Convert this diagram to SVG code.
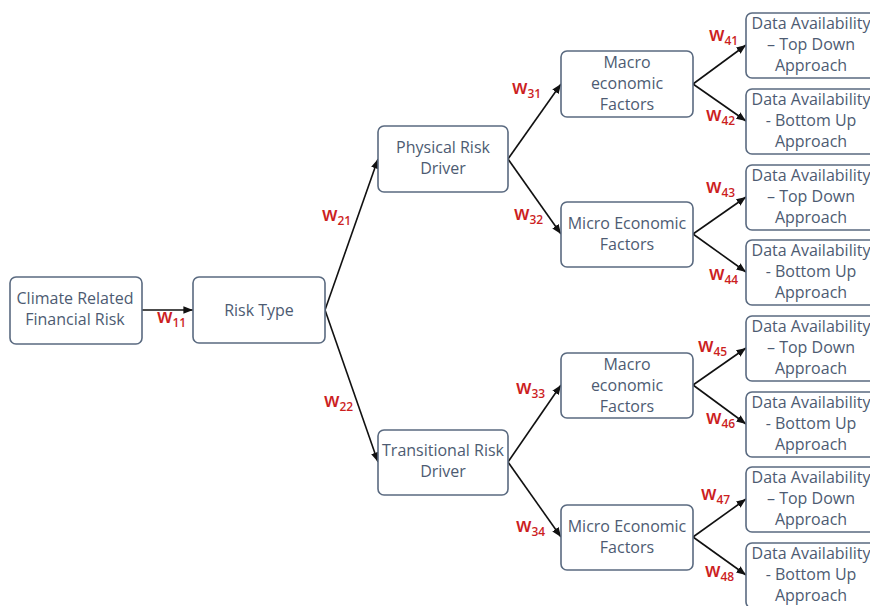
<svg xmlns="http://www.w3.org/2000/svg" width="870" height="606" viewBox="0 0 870 606">
<defs>
<style>
.box{fill:#fff;stroke:#5a6a80;stroke-width:1.6}
.t{font-family:"Open Sans","DejaVu Sans",sans-serif;font-size:16px;fill:#4d5b72;text-anchor:middle}
.c{stroke:#111;stroke-width:1.6;fill:none;marker-end:url(#ah)}
.w{font-family:"Open Sans","DejaVu Sans",sans-serif;font-size:19px;font-weight:600;fill:#cc1f1f}
.s{font-size:12px}
</style>
<marker id="ah" viewBox="0 0 10 10" refX="10" refY="5" markerWidth="6" markerHeight="6" orient="auto" markerUnits="strokeWidth">
<path d="M0,1 L10,5 L0,9 z" fill="#111"/>
</marker>
</defs>
<rect width="870" height="606" fill="#fff"/>

<g id="connectors">
<path class="c" d="M142,310 L193,310"/>
<path class="c" d="M325,310 L378,159"/>
<path class="c" d="M325,310 L378,462"/>
<path class="c" d="M508,159 L561,84"/>
<path class="c" d="M508,159 L561,234"/>
<path class="c" d="M508,462 L561,385"/>
<path class="c" d="M508,462 L561,537"/>
<path class="c" d="M693,84 L746,45"/>
<path class="c" d="M693,84 L746,121"/>
<path class="c" d="M693,234 L746,197"/>
<path class="c" d="M693,234 L746,272"/>
<path class="c" d="M693,385 L746,348"/>
<path class="c" d="M693,385 L746,424"/>
<path class="c" d="M693,537 L746,499"/>
<path class="c" d="M693,537 L746,575"/>
</g>

<g id="weights">
<text class="w" x="157" y="323">w<tspan class="s" dy="4">11</tspan></text>
<text class="w" x="322" y="221">w<tspan class="s" dy="4">21</tspan></text>
<text class="w" x="324" y="407">w<tspan class="s" dy="4">22</tspan></text>
<text class="w" x="512" y="94">w<tspan class="s" dy="4">31</tspan></text>
<text class="w" x="514" y="220">w<tspan class="s" dy="4">32</tspan></text>
<text class="w" x="516" y="394">w<tspan class="s" dy="4">33</tspan></text>
<text class="w" x="516" y="532">w<tspan class="s" dy="4">34</tspan></text>
<text class="w" x="709" y="41">w<tspan class="s" dy="4">41</tspan></text>
<text class="w" x="706" y="121">w<tspan class="s" dy="4">42</tspan></text>
<text class="w" x="706" y="193">w<tspan class="s" dy="4">43</tspan></text>
<text class="w" x="709" y="280">w<tspan class="s" dy="4">44</tspan></text>
<text class="w" x="698" y="352">w<tspan class="s" dy="4">45</tspan></text>
<text class="w" x="706" y="424">w<tspan class="s" dy="4">46</tspan></text>
<text class="w" x="701" y="500">w<tspan class="s" dy="4">47</tspan></text>
<text class="w" x="705" y="577">w<tspan class="s" dy="4">48</tspan></text>
</g>

<g id="climate">
<rect class="box" x="10" y="277" width="132" height="67" rx="6"/>
<text class="t"><tspan x="75" y="304">Climate Related</tspan><tspan x="75" y="325">Financial Risk</tspan></text>
</g>
<g id="risk-type">
<rect class="box" x="193" y="277" width="132" height="66" rx="6"/>
<text class="t" x="259" y="316">Risk Type</text>
</g>
<g id="physical">
<rect class="box" x="378" y="126" width="130" height="66" rx="6"/>
<text class="t"><tspan x="443" y="153">Physical Risk</tspan><tspan x="443" y="174">Driver</tspan></text>
</g>
<g id="transitional">
<rect class="box" x="378" y="430" width="130" height="65" rx="6"/>
<text class="t"><tspan x="443" y="456">Transitional Risk</tspan><tspan x="443" y="477">Driver</tspan></text>
</g>
<g id="macro1">
<rect class="box" x="561" y="51" width="132" height="66" rx="6"/>
<text class="t"><tspan x="627" y="68">Macro</tspan><tspan x="627" y="89">economic</tspan><tspan x="627" y="110">Factors</tspan></text>
</g>
<g id="micro1">
<rect class="box" x="561" y="202" width="132" height="65" rx="6"/>
<text class="t"><tspan x="627" y="229">Micro Economic</tspan><tspan x="627" y="250">Factors</tspan></text>
</g>
<g id="macro2">
<rect class="box" x="561" y="353" width="132" height="65" rx="6"/>
<text class="t"><tspan x="627" y="370">Macro</tspan><tspan x="627" y="391">economic</tspan><tspan x="627" y="412">Factors</tspan></text>
</g>
<g id="micro2">
<rect class="box" x="561" y="505" width="132" height="65" rx="6"/>
<text class="t"><tspan x="627" y="532">Micro Economic</tspan><tspan x="627" y="553">Factors</tspan></text>
</g>

<g id="data1">
<rect class="box" x="746" y="13" width="130" height="65" rx="6"/>
<text class="t"><tspan x="811" y="29">Data Availability</tspan><tspan x="811" y="50">– Top Down</tspan><tspan x="811" y="71">Approach</tspan></text>
</g>
<g id="data2">
<rect class="box" x="746" y="89" width="130" height="65" rx="6"/>
<text class="t"><tspan x="811" y="105">Data Availability</tspan><tspan x="811" y="126">- Bottom Up</tspan><tspan x="811" y="147">Approach</tspan></text>
</g>
<g id="data3">
<rect class="box" x="746" y="165" width="130" height="65" rx="6"/>
<text class="t"><tspan x="811" y="181">Data Availability</tspan><tspan x="811" y="202">– Top Down</tspan><tspan x="811" y="223">Approach</tspan></text>
</g>
<g id="data4">
<rect class="box" x="746" y="240" width="130" height="65" rx="6"/>
<text class="t"><tspan x="811" y="256">Data Availability</tspan><tspan x="811" y="277">- Bottom Up</tspan><tspan x="811" y="298">Approach</tspan></text>
</g>
<g id="data5">
<rect class="box" x="746" y="316" width="130" height="65" rx="6"/>
<text class="t"><tspan x="811" y="332">Data Availability</tspan><tspan x="811" y="353">– Top Down</tspan><tspan x="811" y="374">Approach</tspan></text>
</g>
<g id="data6">
<rect class="box" x="746" y="392" width="130" height="65" rx="6"/>
<text class="t"><tspan x="811" y="408">Data Availability</tspan><tspan x="811" y="429">- Bottom Up</tspan><tspan x="811" y="450">Approach</tspan></text>
</g>
<g id="data7">
<rect class="box" x="746" y="467" width="130" height="65" rx="6"/>
<text class="t"><tspan x="811" y="483">Data Availability</tspan><tspan x="811" y="504">– Top Down</tspan><tspan x="811" y="525">Approach</tspan></text>
</g>
<g id="data8">
<rect class="box" x="746" y="543" width="130" height="65" rx="6"/>
<text class="t"><tspan x="811" y="559">Data Availability</tspan><tspan x="811" y="580">- Bottom Up</tspan><tspan x="811" y="601">Approach</tspan></text>
</g>
</svg>
